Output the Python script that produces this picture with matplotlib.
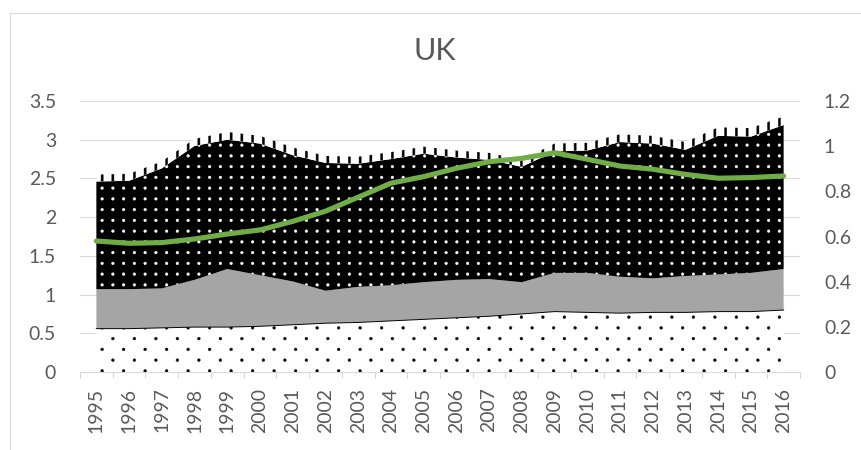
import numpy as np
import matplotlib
matplotlib.use("Agg")
import matplotlib.pyplot as plt
import matplotlib.hatch as mhatch
from matplotlib.path import Path
from matplotlib.lines import Line2D
from matplotlib.ticker import FuncFormatter

# ---------------- data ----------------
years = [str(y) for y in range(1995, 2017)]
# stacked layers (left axis)
layer_dots = [0.56, 0.56, 0.57, 0.58, 0.58, 0.59, 0.61, 0.63, 0.64, 0.66, 0.68,
              0.70, 0.72, 0.75, 0.78, 0.77, 0.76, 0.77, 0.77, 0.78, 0.78, 0.80]
layer_gray = [0.51, 0.51, 0.51, 0.61, 0.75, 0.66, 0.56, 0.42, 0.46, 0.46, 0.48,
              0.49, 0.48, 0.41, 0.50, 0.51, 0.47, 0.44, 0.47, 0.48, 0.50, 0.53]
layer_black = [1.39, 1.40, 1.55, 1.73, 1.67, 1.70, 1.63, 1.65, 1.59, 1.63, 1.66,
               1.58, 1.54, 1.49, 1.57, 1.58, 1.74, 1.74, 1.63, 1.79, 1.76, 1.86]
layer_top = [0.09, 0.09, 0.09, 0.09, 0.10, 0.10, 0.10, 0.09, 0.09, 0.09, 0.09,
             0.09, 0.09, 0.09, 0.10, 0.10, 0.10, 0.10, 0.10, 0.11, 0.11, 0.11]
# line (right axis)
line_green = [0.580, 0.570, 0.573, 0.589, 0.611, 0.629, 0.667, 0.712, 0.774, 0.836, 0.865,
              0.902, 0.931, 0.946, 0.971, 0.942, 0.912, 0.898, 0.875, 0.858, 0.861, 0.868]
left_ticks = [0, 0.5, 1, 1.5, 2, 2.5, 3, 3.5]
right_ticks = [0, 0.2, 0.4, 0.6, 0.8, 1.0, 1.2]
title = "UK"

# ---------------- Excel-like fill patterns ----------------
def _circle(cx, cy, r, k=12):
    t = np.linspace(0, 2 * np.pi, k, endpoint=False)
    v = np.column_stack([cx + r * np.cos(t), cy + r * np.sin(t)])
    v = np.vstack([v, v[:1]])
    c = np.full(k + 1, Path.LINETO, dtype=Path.code_type)
    c[0] = Path.MOVETO
    c[-1] = Path.CLOSEPOLY
    return v, c


def _rect(x0, y0, x1, y1):
    v = np.array([[x0, y0], [x1, y0], [x1, y1], [x0, y1], [x0, y0]], float)
    c = np.array([Path.MOVETO, Path.LINETO, Path.LINETO, Path.LINETO, Path.CLOSEPOLY],
                 dtype=Path.code_type)
    return v, c


class ExcelPatterns(mhatch.HatchPatternBase):
    def __init__(self, hatch, density):
        vs, cs = [], []
        if 'O' in hatch:  # square grid of dots
            n = 8
            for i in range(n):
                for j in range(n):
                    v, c = _circle((i + 0.5) / n, (j + 0.5) / n, 0.0155)
                    vs.append(v); cs.append(c)
        if 'o' in hatch:  # staggered sparse dots
            rows, cols = 8, 4
            for j in range(rows):
                off = 0.5 if j % 2 else 0.0
                for i in range(cols):
                    v, c = _circle((i + 0.25 + off) / cols, (j + 0.5) / rows, 0.016)
                    vs.append(v); cs.append(c)
        if '|' in hatch:  # vertical dashes
            n = 8
            w = 0.012
            for i in range(n):
                cx = (i + 0.5) / n
                v, c = _rect(cx - w, -0.05, cx + w, 1.05)
                vs.append(v); cs.append(c)
        if vs:
            self._v = np.concatenate(vs)
            self._c = np.concatenate(cs)
        else:
            self._v = np.empty((0, 2))
            self._c = np.empty(0, dtype=Path.code_type)
        self.num_vertices = len(self._v)

    def set_vertices_and_codes(self, vertices, codes):
        vertices[:] = self._v
        codes[:] = self._c


mhatch._hatch_types = [ExcelPatterns]

# ---------------- style ----------------
DPI = 86.1
plt.rcParams['font.family'] = ['Lato', 'DejaVu Sans']
plt.rcParams['hatch.linewidth'] = 0.4
TXT = '#595959'
GRID = '#D9D9D9'

fig = plt.figure(figsize=(861 / DPI, 450 / DPI), dpi=DPI)
ax = fig.add_axes([80 / 861, 1 - 372 / 450, 720 / 861, 271 / 450])
ax2 = ax.twinx()

x = np.arange(len(years))
c1 = np.array(layer_dots)
c2 = c1 + np.array(layer_gray)
c3 = c2 + np.array(layer_black)
c4 = c3 + np.array(layer_top)
zero = np.zeros_like(c1)


def band(lo, hi, **kw):
    xs = np.concatenate([x, x[::-1]])
    ys = np.concatenate([hi, lo[::-1]])
    ax.fill(xs, ys, linewidth=0, **kw)


band(zero, c1, facecolor='white', edgecolor='black', hatch='o')
band(c1, c2, facecolor='#A5A5A5', edgecolor='#A5A5A5')
band(c2, c3, facecolor='black', edgecolor='white', hatch='O')
band(c3, c4, facecolor='white', edgecolor='black', hatch='|')
ax.plot(x, c1, color='black', lw=0.8)

ax.set_xlim(-0.5, len(years) - 0.5)
ax.set_ylim(0, 3.5)
ax.set_yticks(left_ticks)
ax.yaxis.set_major_formatter(FuncFormatter(lambda v, p: f"{v:g}"))
ax.set_axisbelow(True)
ax.yaxis.grid(True, color=GRID, lw=0.9)
ax.set_xticks(x)
ax.set_xticklabels(years, rotation=90)
ax.set_xticks(np.arange(-0.5, len(years)), minor=True)
ax.tick_params(axis='x', which='major', length=0, pad=13, labelsize=16.2, labelcolor=TXT)
ax.tick_params(axis='x', which='minor', length=5, width=0.9, color=GRID)
ax.tick_params(axis='y', length=0, pad=20, labelsize=16.2, labelcolor=TXT)
for s in ['top', 'right', 'left']:
    ax.spines[s].set_visible(False)
ax.spines['bottom'].set_color(GRID)
ax.spines['bottom'].set_linewidth(0.9)

ax2.plot(x, line_green, color='#70AD47', lw=4.3, solid_capstyle='round')
ax2.set_ylim(0, 1.2)
ax2.set_yticks(right_ticks)
ax2.yaxis.set_major_formatter(FuncFormatter(lambda v, p: f"{v:g}"))
ax2.tick_params(axis='y', length=0, pad=20, labelsize=16.2, labelcolor=TXT)
for s in ax2.spines.values():
    s.set_visible(False)

fig.text(435 / 861, 1 - 60 / 450, title, ha='center', va='baseline',
         fontsize=25.5, color=TXT, fontweight='normal')

# chart-area border (top and left visible)
fig.add_artist(Line2D([9.5 / 861, 1.01], [1 - 12.5 / 450] * 2, color=GRID, lw=0.9,
                      transform=fig.transFigure))
fig.add_artist(Line2D([9.5 / 861] * 2, [1 - 12.5 / 450, -0.01], color=GRID, lw=0.9,
                      transform=fig.transFigure))

fig.savefig('out.png', dpi=DPI)
